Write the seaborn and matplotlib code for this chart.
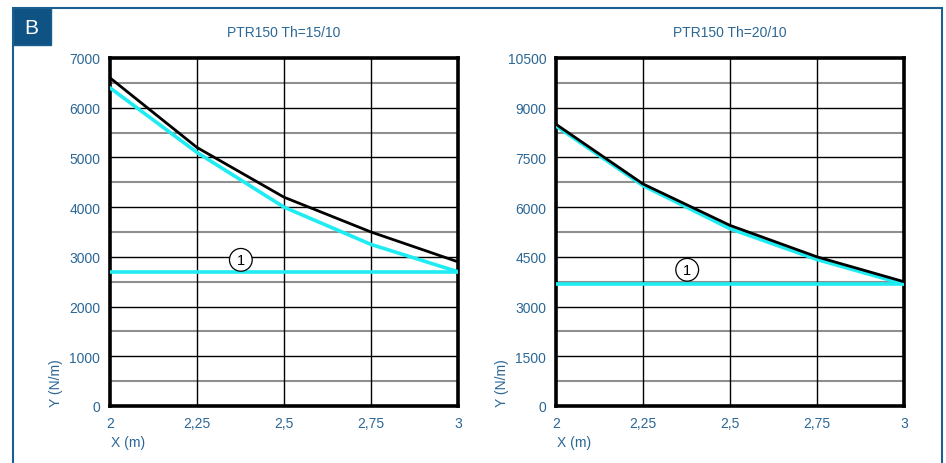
import matplotlib
matplotlib.use("Agg")
import matplotlib.pyplot as plt
import seaborn as sns
import numpy as np
from matplotlib.patches import Rectangle

sns.set_theme(style="white")
plt.rcParams['font.family'] = ['Liberation Sans', 'DejaVu Sans']

# ---- data ----
x_vals = [2.0, 2.25, 2.5, 2.75, 3.0]
x_tick_labels = ["2", "2,25", "2,5", "2,75", "3"]

left_title = "PTR150 Th=15/10"
left_black = [6600, 5200, 4200, 3500, 2900]
left_cyan = [6400, 5100, 4000, 3250, 2700]
left_limit = [2700, 2700]
left_yticks = [0, 1000, 2000, 3000, 4000, 5000, 6000, 7000]
left_label_pos = (2.376, 2940)

right_title = "PTR150 Th=20/10"
right_black = [8500, 6700, 5450, 4500, 3750]
right_cyan = [8450, 6650, 5350, 4420, 3680]
right_limit = [3680, 3680]
right_yticks = [0, 1500, 3000, 4500, 6000, 7500, 9000, 10500]
right_label_pos = (2.377, 4110)

limit_x = [2.0, 3.0]

W, H = 946, 464
fig = plt.figure(figsize=(W / 100, H / 100), dpi=100)

blue_text = "#2b6796"
frame_blue = "#1a5f8f"

# outer frame and badge
fig.patches.append(Rectangle((12.5 / W, -0.05), (941.5 - 12.5) / W, 1.05 - 8.5 / H,
                             transform=fig.transFigure, fill=False,
                             edgecolor=frame_blue, linewidth=1.5))
fig.patches.append(Rectangle((12.5 / W, 1 - 46 / H), (51 - 12.5) / W, (46 - 8.5) / H,
                             transform=fig.transFigure, facecolor="#0e5384",
                             edgecolor=frame_blue, linewidth=1.0))
fig.text(31.5 / W, 1 - 28 / H, "B", color="white", fontsize=15, ha="center", va="center")


def draw(ax_left_px, title, black, cyan, limit, yticks, label_pos):
    ax = fig.add_axes([ax_left_px / W, 1 - 407 / H, 348 / W, 348 / H])
    ymax = yticks[-1]
    step = yticks[1] - yticks[0]
    # minor grid (gray) and major grid (black)
    for v in np.arange(step / 2, ymax, step):
        ax.axhline(v, color="#8f8f8f", lw=1.5, zorder=1)
    for v in yticks[1:-1]:
        ax.axhline(v, color="black", lw=1.0, zorder=1)
    for v in x_vals[1:-1]:
        ax.axvline(v, color="black", lw=1.0, zorder=1)

    sns.lineplot(x=limit_x, y=limit, ax=ax, color="#1fecf2", lw=2.6, zorder=3)
    sns.lineplot(x=x_vals, y=cyan, ax=ax, color="#1fecf2", lw=2.6, zorder=3)
    sns.lineplot(x=x_vals, y=black, ax=ax, color="black", lw=2.0, zorder=4)

    ax.text(label_pos[0], label_pos[1], "1", ha="center", va="center", fontsize=10.5,
            color="black", zorder=5,
            bbox=dict(boxstyle="circle,pad=0.3", fc="white", ec="black", lw=0.9))

    ax.set_xlim(2, 3)
    ax.set_ylim(0, ymax)
    ax.set_xticks(x_vals)
    ax.set_xticklabels(x_tick_labels)
    ax.set_yticks(yticks)
    ax.set_yticklabels([str(v) for v in yticks])
    ax.tick_params(axis="both", length=0, labelsize=10, labelcolor=blue_text, pad=7)
    for s in ax.spines.values():
        s.set_visible(True)
        s.set_color("black")
        s.set_linewidth(2.6)
    ax.set_xlabel("")
    ax.set_ylabel("")
    ax.set_title(title, fontsize=10, color=blue_text, pad=16)
    return ax


draw(110, left_title, left_black, left_cyan, left_limit, left_yticks, left_label_pos)
draw(556, right_title, right_black, right_cyan, right_limit, right_yticks, right_label_pos)

for x0 in (110, 556):
    fig.text((x0 + 18) / W, 1 - 443 / H, "X (m)", color=blue_text, fontsize=10,
             ha="center", va="center")
    fig.text((x0 - 54) / W, 1 - 383 / H, "Y (N/m)", color=blue_text, fontsize=10,
             ha="center", va="center", rotation=90)

fig.savefig("out.png", dpi=100)
